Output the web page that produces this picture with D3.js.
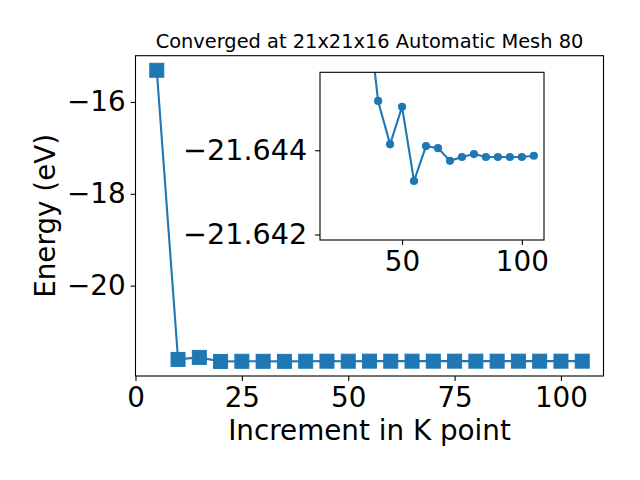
<!DOCTYPE html>
<html>
<head>
<meta charset="utf-8">
<script src="https://cdn.jsdelivr.net/npm/d3@7"></script>
<style>
    body { margin: 0; background: #fff; }
    svg text { font-family: "DejaVu Sans", sans-serif; fill: #000; }
</style>
</head>
<body>
<div class="chart"></div>
<script>
// k-point increments and total energies (eV)
const kpoints = [5, 10, 15, 20, 25, 30, 35, 40, 45, 50, 55, 60, 65, 70, 75, 80, 85, 90, 95, 100, 105];
const energy = [-15.31, -21.606, -21.562, -21.650, -21.646, -21.647, -21.6477,
    -21.64517, -21.64414, -21.64503, -21.64327, -21.64410, -21.64405, -21.64375,
    -21.64384, -21.64391, -21.64384, -21.64384, -21.64384, -21.64384, -21.64387];

const xTicks = [0, 25, 50, 75, 100];
const yTicks = [-16, -18, -20];
const insetXTicks = [50, 100];
const insetYTicks = [-21.644, -21.642];
const insetStart = 3; // inset shows from 20 onwards
const insetYLim = [-21.64187, -21.64585];

const titleText = "Converged at 21x21x16 Automatic Mesh 80";
const xLabel = "Increment in K point";
const yLabel = "Energy (eV)";

const color = "#1f77b4";
const W = 640, H = 480;

const svg = d3.select(".chart").append("svg")
    .attr("width", W)
    .attr("height", H);

// main axes box
const main = { left: 135.5, right: 603.5, top: 55.7, bottom: 376 };

const x = d3.scaleLinear().domain([0, 110]).range([main.left, main.right]);
const yExt = d3.extent(energy);
const yPad = (yExt[1] - yExt[0]) * 0.05;
const y = d3.scaleLinear().domain([yExt[0] - yPad, yExt[1] + yPad]).range([main.bottom, main.top]);

const fmt = d3.format("");

function drawAxes(g, xs, ys, box, xt, yt, yfmt, yPadding, ySize) {
    g.append("rect")
        .attr("x", box.left).attr("y", box.top)
        .attr("width", box.right - box.left).attr("height", box.bottom - box.top)
        .attr("fill", "#fff");

    const xAxis = g.append("g")
        .attr("transform", "translate(0," + box.bottom + ")")
        .call(d3.axisBottom(xs).tickValues(xt).tickSize(4.9).tickPadding(4.9).tickFormat(fmt));
    xAxis.select(".domain").remove();
    xAxis.selectAll("text").style("font-size", "27.8px").attr("dy", "0.78em");

    const yAxis = g.append("g")
        .attr("transform", "translate(" + box.left + ",0)")
        .call(d3.axisLeft(ys).tickValues(yt).tickSize(4.9).tickPadding(yPadding).tickFormat(yfmt));
    yAxis.select(".domain").remove();
    yAxis.selectAll("text").style("font-size", ySize);
    g.selectAll(".tick line").attr("stroke", "#000").attr("stroke-width", 1.1);
}

function drawFrame(g, box) {
    g.append("rect")
        .attr("x", box.left).attr("y", box.top)
        .attr("width", box.right - box.left).attr("height", box.bottom - box.top)
        .attr("fill", "none")
        .attr("stroke", "#000")
        .attr("stroke-width", 1.1);
}

// ---- main plot
const gMain = svg.append("g");
drawAxes(gMain, x, y, main, xTicks, yTicks, d3.format(""), 4.9, "27.8px");

const line = d3.line()
    .x((d, i) => x(kpoints[i]))
    .y(d => y(d));

gMain.append("path")
    .datum(energy)
    .attr("d", line)
    .attr("fill", "none")
    .attr("stroke", color)
    .attr("stroke-width", 2.1);

const sq = 14;
gMain.append("g")
    .selectAll("rect")
    .data(energy)
    .enter()
    .append("rect")
    .attr("x", (d, i) => x(kpoints[i]) - sq / 2)
    .attr("y", d => y(d) - sq / 2)
    .attr("width", sq)
    .attr("height", sq)
    .attr("fill", color)
    .attr("stroke", color)
    .attr("stroke-width", 1);

drawFrame(gMain, main);

svg.append("text")
    .attr("x", (main.left + main.right) / 2)
    .attr("y", 47.5)
    .attr("text-anchor", "middle")
    .style("font-size", "19.4px")
    .text(titleText);

svg.append("text")
    .attr("x", (main.left + main.right) / 2)
    .attr("y", 440)
    .attr("text-anchor", "middle")
    .style("font-size", "27.8px")
    .text(xLabel);

svg.append("text")
    .attr("transform", "translate(54.5," + (main.top + main.bottom) / 2 + ") rotate(-90)")
    .attr("text-anchor", "middle")
    .style("font-size", "27.8px")
    .text(yLabel);

// ---- inset
const inset = { left: 320, right: 544, top: 72.3, bottom: 240 };
const insetK = kpoints.slice(insetStart);
const insetE = energy.slice(insetStart);

const xi = d3.scaleLinear()
    .domain([insetK[0] - (insetK[insetK.length - 1] - insetK[0]) * 0.05,
             insetK[insetK.length - 1] + (insetK[insetK.length - 1] - insetK[0]) * 0.05])
    .range([inset.left, inset.right]);
const yi = d3.scaleLinear().domain(insetYLim).range([inset.bottom, inset.top]);

const gInset = svg.append("g");
drawAxes(gInset, xi, yi, inset, insetXTicks, insetYTicks, d3.format(".3f"), 8, "28.6px");

svg.append("clipPath").attr("id", "inset-clip")
    .append("rect")
    .attr("x", inset.left).attr("y", inset.top)
    .attr("width", inset.right - inset.left).attr("height", inset.bottom - inset.top);

const gData = gInset.append("g").attr("clip-path", "url(#inset-clip)");

gData.append("path")
    .datum(insetE)
    .attr("d", d3.line().x((d, i) => xi(insetK[i])).y(d => yi(d)))
    .attr("fill", "none")
    .attr("stroke", color)
    .attr("stroke-width", 2.1);

gData.append("g")
    .selectAll("circle")
    .data(insetE)
    .enter()
    .append("circle")
    .attr("cx", (d, i) => xi(insetK[i]))
    .attr("cy", d => yi(d))
    .attr("r", 4.1)
    .attr("fill", color);

drawFrame(gInset, inset);
</script>
</body>
</html>
